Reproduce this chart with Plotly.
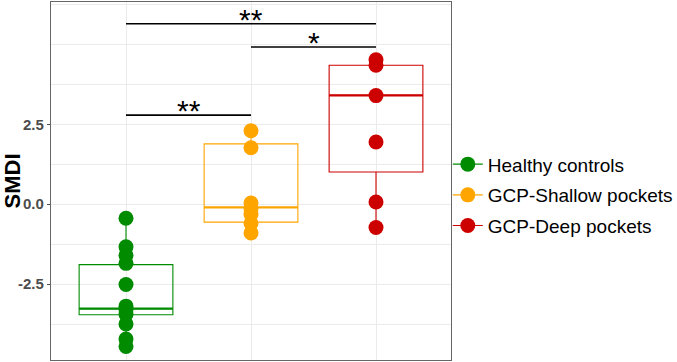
import plotly.graph_objects as go

# ---- data ----
groups = ["Healthy controls", "GCP-Shallow pockets", "GCP-Deep pockets"]
group_pos = [1, 2, 3]
colors = ["#008B00", "#FFA500", "#CD0000"]

healthy_vals = [-0.44, -1.33, -1.60, -1.85, -2.51, -3.19, -3.30, -3.45, -3.75, -4.22, -4.45]
shallow_vals = [2.30, 1.77, 0.04, -0.14, -0.32, -0.60, -0.90]
deep_vals = [4.52, 4.35, 3.40, 1.95, 0.07, -0.73]
values = [healthy_vals, shallow_vals, deep_vals]

# box statistics
q1 = [-3.46, -0.56, 1.01]
median = [-3.27, -0.10, 3.41]
q3 = [-1.89, 1.89, 4.35]
lower = [-4.45, -0.90, -0.73]
upper = [-0.44, 2.30, 4.52]

# significance brackets
comp_start = [1, 2, 1]
comp_end = [2, 3, 3]
comp_y = [2.79, 4.92, 5.65]
comp_label = ["**", "*", "**"]

y_labels = [-2.5, 0.0, 2.5]
y_grid = [-3.75, -2.5, -1.25, 0.0, 1.25, 2.5, 3.75, 5.0, 6.25]

box_width = 0.75

fig = go.Figure()

for i, g in enumerate(groups):
    fig.add_trace(go.Box(
        x=[group_pos[i]], q1=[q1[i]], median=[median[i]], q3=[q3[i]],
        lowerfence=[lower[i]], upperfence=[upper[i]],
        width=box_width, whiskerwidth=0, boxpoints=False,
        line=dict(color=colors[i], width=1.1), fillcolor="rgba(0,0,0,0)",
        showlegend=False, hoverinfo="skip"))

for i, g in enumerate(groups):
    fig.add_trace(go.Scatter(
        x=[group_pos[i] - box_width / 2, group_pos[i] + box_width / 2],
        y=[median[i], median[i]], mode="lines",
        line=dict(color=colors[i], width=2.2), showlegend=False, hoverinfo="skip"))

for i, g in enumerate(groups):
    fig.add_trace(go.Scatter(
        x=[group_pos[i]] * len(values[i]), y=values[i], mode="markers",
        marker=dict(color=colors[i], size=15), showlegend=False, name=g))

for i, g in enumerate(groups):
    fig.add_trace(go.Scatter(
        x=[None], y=[None], mode="lines+markers", name=g, legendgroup=g,
        marker=dict(color=colors[i], size=15), line=dict(color=colors[i], width=1.1)))

for s, e, y, lab in zip(comp_start, comp_end, comp_y, comp_label):
    fig.add_shape(type="line", x0=s, x1=e, y0=y, y1=y, xref="x", yref="y",
                  line=dict(color="black", width=1.6))
    fig.add_annotation(x=(s + e) / 2, y=y, text=lab, showarrow=False,
                       xref="x", yref="y", yanchor="bottom", yshift=-14,
                       font=dict(size=30, color="black", family="Liberation Sans"))

fig.update_layout(
    width=677, height=362,
    margin=dict(l=51, r=226, t=2, b=2, autoexpand=False),
    paper_bgcolor="white", plot_bgcolor="white",
    font=dict(family="Liberation Sans"),
    legend=dict(x=0.992, xanchor="left", y=0.46, yanchor="middle",
                font=dict(size=19, color="black"), tracegroupgap=3,
                bgcolor="rgba(0,0,0,0)"),
    xaxis=dict(range=[0.4, 3.6], tickvals=group_pos, showticklabels=False,
               showgrid=True, gridcolor="#EBEBEB", gridwidth=1, zeroline=False,
               showline=True, mirror=True, linecolor="#666666", linewidth=1.2,
               ticks="", automargin=False),
    yaxis=dict(range=[-4.875, 6.33], tickvals=y_labels,
               ticktext=[f"{v:.1f}" for v in y_labels],
               tickfont=dict(size=15, color="#4D4D4D", family="Liberation Sans", weight="bold"),
               ticks="outside", ticklen=3, tickcolor="#4D4D4D",
               showgrid=True, gridcolor="#EBEBEB", gridwidth=1, zeroline=False,
               minor=dict(tickvals=y_grid, showgrid=True, gridcolor="#EBEBEB", gridwidth=1, ticks=""),
               showline=True, mirror=True, linecolor="#666666", linewidth=1.2,
               automargin=False,
               title=dict(text="<b>SMDI</b>", font=dict(size=22, color="black"), standoff=4)),
)

fig.write_html("out.html", config={"displayModeBar": False},
               post_script="document.body.style.margin='0';")
